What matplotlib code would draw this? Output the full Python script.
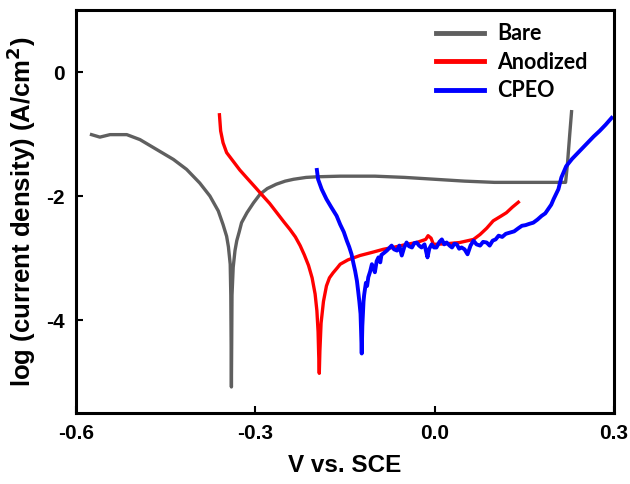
import matplotlib
matplotlib.use("Agg")
import matplotlib.pyplot as plt

# Bare
bare_x = [-0.574, -0.560, -0.543, -0.515, -0.493, -0.465, -0.437, -0.415, -0.393, -0.376,
          -0.362, -0.354, -0.348, -0.345, -0.342, -0.341, -0.340, -0.339, -0.337, -0.334,
          -0.331, -0.327, -0.323, -0.314, -0.303, -0.292, -0.280, -0.265, -0.250, -0.236,
          -0.215, -0.197, -0.158, -0.100, -0.050, 0.000, 0.050, 0.100, 0.150, 0.200,
          0.219, 0.222, 0.226, 0.229]
bare_y = [-1.01, -1.05, -1.01, -1.01, -1.09, -1.25, -1.41, -1.57, -1.79, -2.00,
          -2.24, -2.46, -2.65, -2.82, -3.10, -3.60, -5.08, -3.60, -3.15, -2.88,
          -2.72, -2.58, -2.43, -2.27, -2.11, -1.97, -1.88, -1.81, -1.76, -1.73,
          -1.70, -1.69, -1.68, -1.68, -1.70, -1.73, -1.76, -1.78, -1.78, -1.78,
          -1.78, -1.50, -1.00, -0.64]

# Anodized
anod_x = [-0.360, -0.358, -0.354, -0.348, -0.337, -0.326, -0.314, -0.300, -0.289, -0.276,
          -0.264, -0.252, -0.242, -0.233, -0.225, -0.218, -0.211, -0.205, -0.200, -0.197,
          -0.195, -0.194, -0.193, -0.192, -0.190, -0.186, -0.181, -0.176, -0.170, -0.163,
          -0.158, -0.145, -0.125, -0.105, -0.086, -0.065, -0.047, -0.030, -0.015, -0.011,
          -0.006, -0.002, 0.020, 0.042, 0.065, 0.076, 0.087, 0.098, 0.110, 0.120,
          0.130, 0.140]
anod_y = [-0.69, -0.95, -1.14, -1.30, -1.44, -1.58, -1.71, -1.86, -1.98, -2.12,
          -2.27, -2.42, -2.54, -2.66, -2.80, -2.95, -3.12, -3.32, -3.58, -3.85,
          -4.19, -4.55, -4.86, -4.50, -4.05, -3.70, -3.45, -3.32, -3.24, -3.16,
          -3.10, -3.03, -2.96, -2.91, -2.86, -2.82, -2.78, -2.75, -2.70, -2.64,
          -2.68, -2.78, -2.77, -2.75, -2.70, -2.62, -2.52, -2.40, -2.33, -2.27,
          -2.18, -2.10]

# CPEO
cpeo_x = [-0.197, -0.195, -0.189, -0.181, -0.173, -0.164, -0.158, -0.152, -0.147, -0.143,
          -0.139, -0.136, -0.133, -0.130, -0.128, -0.126, -0.124, -0.123, -0.122, -0.121,
          -0.120, -0.119, -0.118, -0.117, -0.115, -0.113, -0.111, -0.108, -0.105, -0.102,
          -0.100, -0.097, -0.094, -0.091, -0.089, -0.085, -0.080, -0.076, -0.072, -0.068,
          -0.063, -0.059, -0.055, -0.051, -0.047, -0.043, -0.038, -0.034, -0.030, -0.026,
          -0.022, -0.017, -0.012, -0.009, -0.005, -0.001, 0.003, 0.008, 0.012, 0.016,
          0.020, 0.025, 0.029, 0.033, 0.037, 0.041, 0.045, 0.050, 0.055, 0.060,
          0.065, 0.070, 0.076, 0.081, 0.087, 0.092, 0.097, 0.102, 0.107, 0.113,
          0.119, 0.126, 0.133, 0.140, 0.146, 0.152, 0.158, 0.165, 0.172, 0.179,
          0.185, 0.190, 0.195, 0.199, 0.203, 0.207, 0.212, 0.220, 0.230, 0.239,
          0.248, 0.257, 0.266, 0.276, 0.286, 0.296]
cpeo_y = [-1.58, -1.73, -1.89, -2.05, -2.18, -2.32, -2.46, -2.58, -2.72, -2.82,
          -2.94, -3.08, -3.21, -3.37, -3.53, -3.70, -3.90, -4.20, -4.54, -4.10,
          -3.90, -3.70, -3.60, -3.53, -3.40, -3.45, -3.31, -3.22, -3.10, -3.18,
          -3.23, -3.05, -2.99, -3.07, -2.95, -2.92, -2.88, -2.84, -2.80, -2.86,
          -2.88, -2.80, -2.96, -2.83, -2.75, -2.81, -2.83, -2.76, -2.75, -2.80,
          -2.83, -2.78, -2.99, -2.85, -2.78, -2.83, -2.83, -2.74, -2.70, -2.78,
          -2.75, -2.80, -2.83, -2.77, -2.78, -2.85, -2.83, -2.86, -2.94, -2.80,
          -2.72, -2.78, -2.80, -2.74, -2.75, -2.80, -2.72, -2.70, -2.64, -2.66,
          -2.61, -2.59, -2.57, -2.52, -2.48, -2.47, -2.45, -2.43, -2.38, -2.32,
          -2.28, -2.21, -2.14, -2.05, -1.97, -1.89, -1.70, -1.52, -1.40, -1.31,
          -1.22, -1.13, -1.04, -0.95, -0.85, -0.74]

fig = plt.figure(figsize=(6.3, 4.84), dpi=100)
ax = fig.add_axes([0.1206, 0.1467, 0.854, 0.8326])

ax.plot(bare_x, bare_y, color="#5f5f5f", lw=2.4, label="Bare", solid_joinstyle="round")
ax.plot(anod_x, anod_y, color="#ff0000", lw=2.4, label="Anodized", solid_joinstyle="round")
ax.plot(cpeo_x, cpeo_y, color="#0000ff", lw=2.8, label="CPEO", solid_joinstyle="round")

ax.set_xlim(-0.6, 0.3)
ax.set_ylim(-5.5, 1.0)
ax.set_xticks([-0.6, -0.3, 0.0, 0.3])
ax.set_xticklabels(["-0.6", "-0.3", "0.0", "0.3"])
ax.set_yticks([-4, -2, 0])
ax.set_yticklabels(["-4", "-2", "0"])

for s in ax.spines.values():
    s.set_linewidth(2.2)
ax.tick_params(direction="in", length=5, width=1.5, labelsize=15, pad=8)
for lab in ax.get_xticklabels() + ax.get_yticklabels():
    lab.set_fontweight("bold")
    lab.set_fontfamily("Liberation Sans")

ax.set_xlabel("V vs. SCE", fontsize=17.5, fontweight="bold", family="Liberation Sans", labelpad=8)
ax.set_ylabel("log (current density) (A/cm$^\\mathbf{2}$)", fontsize=18.5, fontweight="bold",
              family="Liberation Sans", labelpad=6)

leg = ax.legend(loc="upper right", bbox_to_anchor=(0.987, 1.015), frameon=False,
                handlelength=2.25, handletextpad=0.6,
                labelspacing=0.35, borderaxespad=0.5,
                prop={"family": "Lato", "weight": "bold", "size": 15.5})
for h in leg.get_lines():
    h.set_linewidth(3.5)

fig.savefig("out.png", dpi=100)
